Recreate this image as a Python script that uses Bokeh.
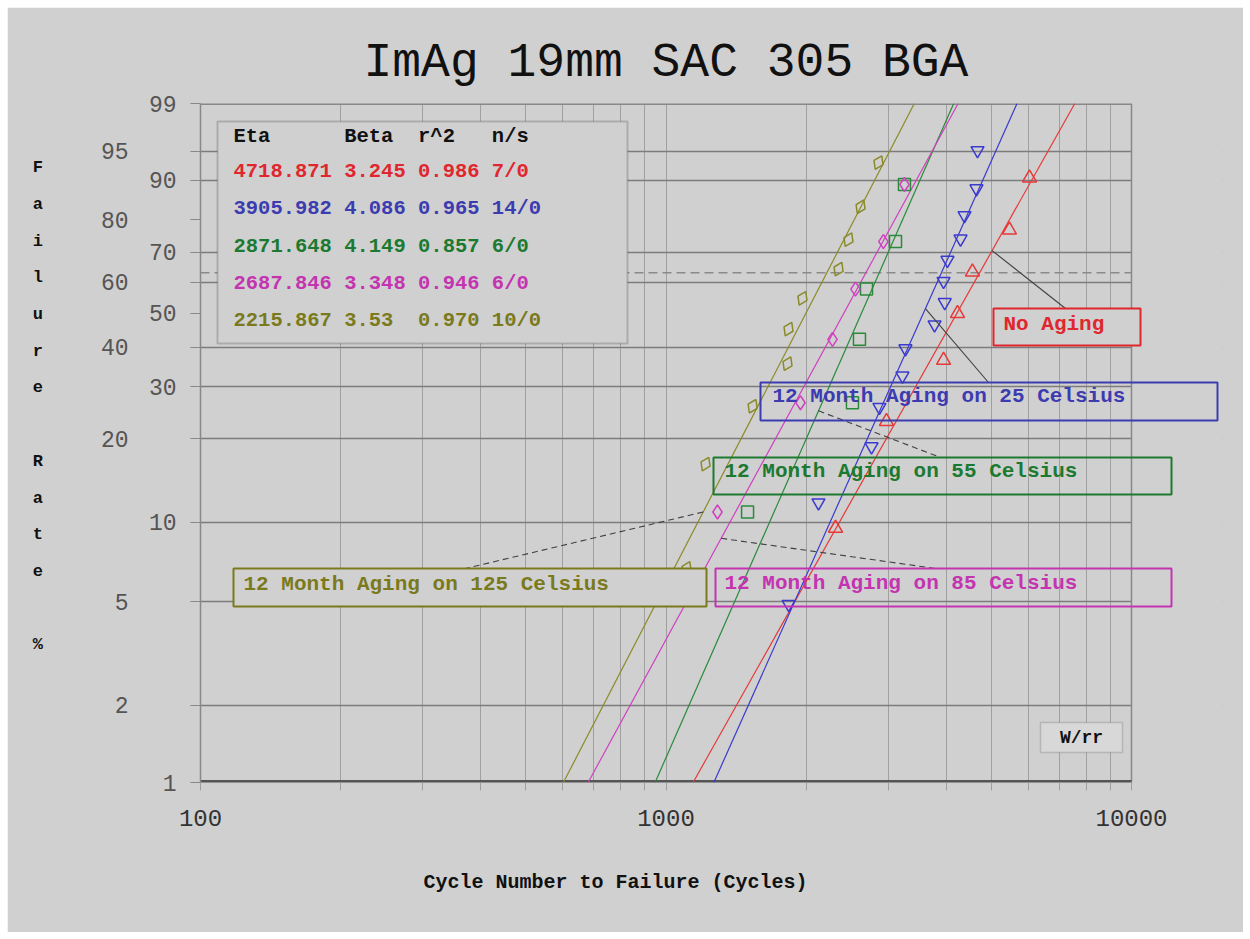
import math
from bokeh.plotting import figure
from bokeh.models import Range1d, FixedTicker, LinearAxis, Label, BoxAnnotation
from bokeh.embed import file_html
from bokeh.resources import INLINE

# ---------------- data ----------------
chart_title = "ImAg 19mm SAC 305 BGA"
x_title = "Cycle Number to Failure (Cycles)"
y_title = "Failure Rate %"

series_names = ["No Aging", "12 Month Aging on 25 Celsius", "12 Month Aging on 55 Celsius",
                "12 Month Aging on 85 Celsius", "12 Month Aging on 125 Celsius"]
eta = [4718.871, 3905.982, 2871.648, 2687.846, 2215.867]
beta = [3.245, 4.086, 4.149, 3.348, 3.53]
r2 = [0.986, 0.965, 0.857, 0.946, 0.970]
n_fail = [7, 14, 6, 6, 10]
n_susp = [0, 0, 0, 0, 0]

red_cycles = [2313, 2976, 3947, 4229, 4553, 5468, 6038]
red_pct = [9.5, 23.0, 36.5, 50.0, 63.5, 77.0, 90.5]

blue_cycles = [1834, 2126, 2764, 2874, 3221, 3269, 3775, 3970, 3947, 4024, 4293, 4378, 4645, 4669]
blue_pct = [4.9, 11.8, 18.8, 25.7, 32.6, 39.6, 46.5, 53.5, 60.4, 67.4, 74.3, 81.3, 88.2, 95.1]

green_cycles = [1497, 2515, 2604, 2696, 3112, 3253]
green_pct = [10.9, 26.6, 42.2, 57.8, 73.4, 89.1]

magenta_cycles = [1290, 1945, 2279, 2553, 2931, 3253]
magenta_pct = [10.9, 26.6, 42.2, 57.8, 73.4, 89.1]

olive_cycles = [1107, 1216, 1535, 1824, 1833, 1964, 2348, 2466, 2618, 2861]
olive_pct = [6.7, 16.3, 25.9, 35.6, 45.2, 54.8, 64.4, 74.0, 83.7, 93.3]

y_tick_pct = [1, 2, 5, 10, 20, 30, 40, 50, 60, 70, 80, 90, 95, 99]
y_inner_pct = [1, 10, 30, 50, 70, 90, 99]
y_outer_pct = [2, 5, 20, 40, 60, 80, 95]
y_grid_pct = [2, 5, 10, 20, 30, 40, 60, 70, 90, 95]
x_major = [100, 1000, 10000]
x_minor = [200, 300, 400, 500, 600, 700, 800, 900, 2000, 3000, 4000, 5000, 6000, 7000, 8000, 9000]

# leader anchors on each fitted line (failure %)
leader_pct = [70.5, 51.5, 25.0, 8.7, 10.9]

# ---------------- helpers ----------------
def wb(pct):
    return math.log(-math.log(1.0 - pct / 100.0))

Y_LO, Y_HI = wb(1), wb(99)
X_LO, X_HI = 100, 10000
FL, FT, FB = 200, 103, 782          # plot box in page pixels (left/top/bottom)
DEC = 465.5                         # pixels per decade
FR_EXT = 1222                       # frame extended right so label boxes can overhang

def dx(px):
    return 10 ** (2 + (px - FL) / DEC)

def dy(py):
    return Y_HI - (py - FT) / (FB - FT) * (Y_HI - Y_LO)

def fit_x(i, pct):
    return eta[i] * math.exp(wb(pct) / beta[i])

def nb(s):
    return s.replace(" ", "\u00a0")

BG = "#d0d0d0"
FONT = "Liberation Mono"
text_cols = ["#e0262e", "#3c3cb0", "#1c7a30", "#c434b0", "#7a7a1c"]
line_cols = ["#e83838", "#3a3ad0", "#2a8a3a", "#d040c0", "#8a8a2a"]

X_END = dx(FR_EXT)
p = figure(width=1236, height=925, x_axis_type="log",
           x_range=Range1d(X_LO, X_END), y_range=Range1d(Y_LO, Y_HI),
           output_backend="svg", toolbar_location=None,
           min_border_left=193, min_border_right=1243 - FR_EXT, min_border_top=96,
           min_border_bottom=150,
           background_fill_color=BG, border_fill_color=BG, margin=(7, 7, 7, 7))

p.title.text = chart_title
p.title.align = "left"
p.title.offset = 163
p.title.text_font = FONT
p.title.text_font_size = "48px"
p.title.text_font_style = "normal"
p.title.text_color = "#111111"
p.title.standoff = 28

p.outline_line_color = BG
p.outline_line_width = 3

# x axis
xa = p.xaxis[0]
xa.ticker = FixedTicker(ticks=x_major, minor_ticks=x_minor)
xa.major_label_overrides = {v: str(v) for v in x_major}
xa.major_label_text_font = FONT
xa.major_label_text_font_size = "24px"
xa.major_label_text_color = "#333333"
xa.major_label_standoff = 19
xa.axis_line_color = None
xa.major_tick_out = 8
xa.major_tick_in = 0
xa.minor_tick_out = 8
xa.minor_tick_in = 0
xa.major_tick_line_color = "#a0a0a0"
xa.minor_tick_line_color = "#a0a0a0"
xa.axis_label = x_title + "\u00a0" * 16
xa.axis_label_text_font = FONT
xa.axis_label_text_font_size = "20px"
xa.axis_label_text_font_style = "bold"
xa.axis_label_text_color = "#111111"
xa.axis_label_standoff = 42

# inner y axis
ya = p.yaxis[0]
all_ticks = [wb(v) for v in y_tick_pct]
ya.ticker = FixedTicker(ticks=all_ticks, minor_ticks=[])
ya.major_label_overrides = {wb(v): (str(v) if v in y_inner_pct else "") for v in y_tick_pct}
ya.major_label_text_font = FONT
ya.major_label_text_font_size = "23px"
ya.major_label_text_color = "#555555"
ya.major_tick_out = 10
ya.major_tick_in = 0
ya.major_label_standoff = 14
ya.axis_line_color = "#888888"
ya.axis_line_width = 1.5
ya.major_tick_line_color = "#888888"

# outer y axis (second column of labels + stacked title)
yb = LinearAxis(ticker=FixedTicker(ticks=[wb(v) for v in y_outer_pct], minor_ticks=[]))
yb.major_label_overrides = {wb(v): str(v) for v in y_outer_pct}
yb.major_label_text_font = FONT
yb.major_label_text_font_size = "23px"
yb.major_label_text_color = "#555555"
yb.major_tick_out = 0
yb.major_tick_in = 0
yb.minor_tick_out = 0
yb.axis_line_color = None
yb.major_label_standoff = 17
yb.axis_label = "\n".join(ch if ch != " " else "\u00a0" for ch in y_title) + "\n\u00a0\n\u00a0"
yb.axis_label_orientation = "horizontal"
yb.axis_label_text_font = FONT
yb.axis_label_text_font_size = "17px"
yb.axis_label_text_font_style = "bold"
yb.axis_label_text_color = "#111111"
yb.axis_label_text_line_height = 1.93
yb.axis_label_standoff = 55
p.add_layout(yb, "left")

# grids
p.xgrid.ticker = FixedTicker(ticks=x_major, minor_ticks=x_minor)
p.xgrid.grid_line_color = "#a0a0a0"
p.xgrid.minor_grid_line_color = "#a0a0a0"
p.ygrid.ticker = FixedTicker(ticks=[wb(v) for v in y_grid_pct], minor_ticks=[])
p.ygrid.grid_line_color = "#7c7c7c"
p.ygrid.grid_line_width = 1.3

# hide grid beyond 10000 (overhang area for the label boxes)
p.add_layout(BoxAnnotation(left=X_HI, right=X_END * 1.05, bottom=Y_LO - 0.1, top=Y_HI + 0.1,
                           fill_color=BG, fill_alpha=1.0, line_color=None, level="underlay"))

# plot box borders and the 63.2 % line
p.segment(x0=[X_LO], y0=[Y_HI], x1=[X_HI], y1=[Y_HI], line_color="#888888", line_width=3)
p.segment(x0=[X_HI], y0=[Y_LO], x1=[X_HI], y1=[Y_HI], line_color="#888888", line_width=1.5)
p.segment(x0=[X_LO], y0=[Y_LO], x1=[X_HI], y1=[Y_LO], line_color="#555555", line_width=5)
p.segment(x0=[X_LO], y0=[wb(100 * (1 - math.exp(-1)))], x1=[X_HI], y1=[wb(100 * (1 - math.exp(-1)))],
          line_color="#8a8a8a", line_dash="9 5", line_width=1.3)

# fitted lines
for i in range(5):
    p.line([fit_x(i, 1), fit_x(i, 99)], [wb(1), wb(99)], line_color=line_cols[i], line_width=1.2)

# points
pts = [(red_cycles, red_pct, "triangle", 14, 0.0),
       (blue_cycles, blue_pct, "inverted_triangle", 13, 0.0),
       (green_cycles, green_pct, "square", 12, 0.0),
       (magenta_cycles, magenta_pct, "diamond", 14, 0.0),
       (olive_cycles, olive_pct, "diamond", 15, -0.45)]
for i, (cx, cp, mk, sz, ang) in enumerate(pts):
    p.scatter([float(c) for c in cx], [wb(v) for v in cp], marker=mk, size=sz, angle=ang,
              line_color=line_cols[i], fill_color=None, line_width=1.5)

# label boxes: (left, top, right, bottom) page px, text left px, text mid py, filled, leader end px
boxes = [
    (993, 308, 1140, 345, 1003, 324, True, (1065, 308), "solid"),
    (760, 382, 1217, 420, 772, 396, False, (988, 382), "solid"),
    (713, 457, 1171, 494, 724, 471, False, (940, 457), "6 4"),
    (715, 568, 1171, 606, 724, 583, False, (935, 568), "6 4"),
    (233, 568, 706, 606, 243, 584, True, (465, 568), "6 4"),
]
for i, (l, t, r, b, tx, ty, filled, lend, dash) in enumerate(boxes):
    x0 = fit_x(i, leader_pct[i])
    p.segment(x0=[x0], y0=[wb(leader_pct[i])], x1=[dx(lend[0])], y1=[dy(lend[1])],
              line_color="#404040", line_width=1.1, line_dash=dash)
    p.add_layout(BoxAnnotation(left=dx(l), right=dx(r), top=dy(t), bottom=dy(b),
                               fill_color=BG if filled else None, fill_alpha=1.0 if filled else 0.0,
                               line_color=text_cols[i], line_width=2, line_alpha=1.0))
    p.add_layout(Label(x=dx(tx), y=dy(ty), text=nb(series_names[i]), text_font=FONT,
                       text_font_size="21px", text_font_style="bold", text_color=text_cols[i],
                       text_baseline="middle", text_align="left"))

# parameter table
p.add_layout(BoxAnnotation(left=dx(217), right=dx(627), top=dy(121), bottom=dy(343),
                           fill_color=BG, fill_alpha=1.0, line_color="#555555", line_width=2))
header = "Eta      Beta  r^2   n/s"
p.add_layout(Label(x=dx(233), y=dy(136), text=nb(header), text_font=FONT, text_font_size="20.5px",
                   text_font_style="bold", text_color="#111111", text_baseline="middle"))
row_py = [171, 208, 246, 283, 320]
for i in range(5):
    row = f"{eta[i]:.3f} {str(beta[i]):<5} {r2[i]:.3f} {n_fail[i]}/{n_susp[i]}"
    p.add_layout(Label(x=dx(233), y=dy(row_py[i]), text=nb(row), text_font=FONT,
                       text_font_size="20.5px", text_font_style="bold", text_color=text_cols[i],
                       text_baseline="middle"))

# W/rr box
p.add_layout(BoxAnnotation(left=dx(1040), right=dx(1122), top=dy(722), bottom=dy(752),
                           fill_color="#d8d8d8", fill_alpha=1.0, line_color="#707070", line_width=1.5))
p.add_layout(Label(x=dx(1081), y=dy(737), text="W/rr", text_font=FONT, text_font_size="18px",
                   text_font_style="bold", text_color="#111111", text_baseline="middle",
                   text_align="center"))

open("out.html", "w").write(file_html(p, INLINE))
